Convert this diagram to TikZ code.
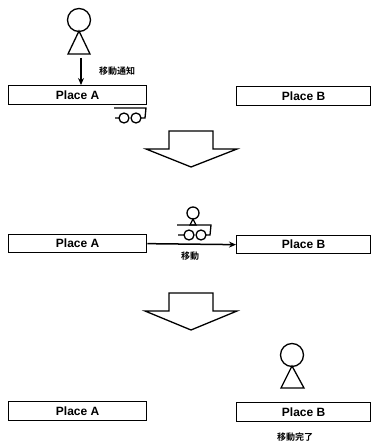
\documentclass[tikz,border=0pt]{standalone}
\usepackage{fontspec}
\setmainfont{Liberation Sans}
\newfontfamily\cjk{Noto Sans CJK JP}[BoldFont={* Bold}]
\usetikzlibrary{arrows.meta}
\tikzset{
  place/.style={draw, line width=1.3pt, anchor=north west, inner sep=0pt, font=\bfseries\fontsize{12}{12}\selectfont},
  caption/.style={font=\cjk\bfseries\fontsize{9}{9}\selectfont},
  body/.style={draw, line width=1.3pt},
  shift down/.style={draw, line width=1.3pt, line join=miter},
  move/.style={line width=1.5pt, -{Stealth[length=7pt,width=6pt]}}
}
\begin{document}
\begin{tikzpicture}[x=1pt, y=-1pt]
  \useasboundingbox (0,0) rectangle (371,446);

  % Step 1: notice given at Place A
  \node[place, minimum width=138pt, minimum height=19pt] (placeAone) at (8,85) {Place A};
  \node[place, minimum width=134pt, minimum height=19pt] (placeBone) at (236,86) {Place B};
  \draw[body] (79,20) circle (11.5);
  \draw[body] (79,31) -- (68,54) -- (90,54) -- cycle;
  \coordinate (personfoot) at (81,58);
  \draw[move] (personfoot) -- (personfoot |- placeAone.north);
  \node[caption] (notice) at (117,71) {移動通知};

  % Cart under Place A
  \draw[body] (114,108) -- (146,108) -- (145,118) -- (141,118) (119,118) -- (115,118) -- cycle;
  \draw[body] (124,118) circle (5);
  \draw[body] (136,118) circle (5);

  % Block arrows between steps
  \draw[shift down] (169,131) -- (213,131) -- (213,149) -- (237,149) -- (191,167)
    -- (146,149) -- (169,149) -- cycle;
  \draw[shift down] (169,293) -- (213,293) -- (213,311) -- (237,311) -- (191,330)
    -- (145,311) -- (169,311) -- cycle;

  % Step 2: moving
  \node[place, minimum width=138pt, minimum height=18pt] (placeAtwo) at (8,234) {Place A};
  \node[place, minimum width=134pt, minimum height=18pt] (placeBtwo) at (236,235) {Place B};
  \draw[move] (placeAtwo.east) -- (placeBtwo.west);
  \node[caption] (moving) at (190,256) {移動};

  % Person on the cart
  \draw[body] (193,213) circle (6);
  \draw[body] (193,219) -- (190,225) -- (196,225) -- cycle;
  \draw[body] (177,225) -- (211,225) -- (210,235) -- (206,235) (184,235) -- (178,235) -- cycle;
  \draw[body] (189,235) circle (5);
  \draw[body] (201,235) circle (5);

  % Step 3: arrived at Place B
  \node[place, minimum width=138pt, minimum height=19pt] (placeAthree) at (8,401) {Place A};
  \node[place, minimum width=134pt, minimum height=19pt] (placeBthree) at (236,402) {Place B};
  \draw[body] (292,355) circle (11.5);
  \draw[body] (292,366) -- (281,388) -- (304,388) -- cycle;
  \node[caption] (arrived) at (295,437) {移動完了};
\end{tikzpicture}
\end{document}
